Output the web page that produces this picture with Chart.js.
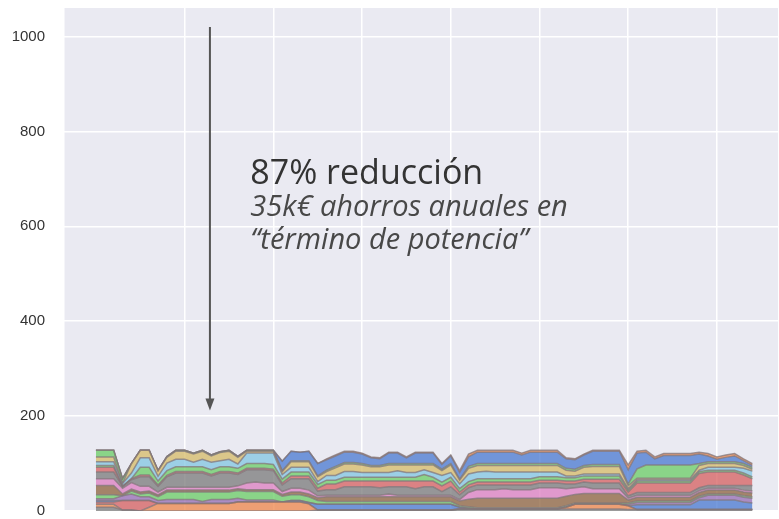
<!DOCTYPE html>
<html>
<head>
<meta charset="utf-8">
<script src="https://cdn.jsdelivr.net/npm/chart.js@4/dist/chart.umd.min.js"></script>
<style>
  html, body { margin: 0; padding: 0; background: #fff; }
  #c { display: block; }
</style>
</head>
<body>
<canvas id="c" width="779" height="519"></canvas>
<script>
// x = sample index (time steps), y = stacked power per point
const steps = Array.from({ length: 75 }, (_, i) => i);
const yTicks = [0, 200, 400, 600, 800, 1000];

const s01 = [8,8,8,2,2, 0,0,0,0,0, 0,0,0,0,0, 0,0,0,0,0, 0,0,0,0,0, 2,2,2,2,2, 2,2,2,2,2, 2,2,2,2,2, 2,4,4,4,4, 4,4,4,4,4, 4,4,4,4,4, 4,4,4,4,4, 3,3,3,3,3, 3,3,3,3,3, 3,3,3,3,3];
const s02 = [6,6,6,0,0, 0,8,16,16,16, 16,16,16,16,16, 16,19,19,19,19, 19,19,19,19,15, 0,0,0,0,0, 0,0,0,0,0, 0,0,0,0,0, 0,0,0,0,0, 0,0,0,0,0, 0,0,0,4,10, 10,10,10,10,10, 8,0,0,0,0, 0,0,0,0,0, 0,0,0,0,0];
const s03 = [5,5,5,20,20, 22,14,0,0,0, 0,0,0,0,0, 0,0,0,0,0, 0,0,0,0,0, 0,0,0,0,0, 0,0,0,0,0, 0,0,0,0,0, 0,0,0,0,0, 0,0,0,0,0, 0,0,0,0,0, 0,0,0,0,0, 0,0,0,0,0, 0,0,0,0,0, 0,0,0,0,0];
const s04 = [3,3,3,0,0, 0,0,0,0,0, 0,0,0,0,0, 0,0,0,0,0, 0,0,3,3,3, 12,12,12,12,12, 12,12,12,12,12, 12,12,12,12,12, 12,4,2,0,0, 0,0,0,0,0, 0,0,0,0,0, 0,0,0,0,0, 0,10,10,10,10, 10,10,10,20,20, 20,20,20,16,14];
const s05 = [4,4,4,10,14, 8,8,6,8,8, 8,8,4,8,8, 8,8,4,4,4, 4,0,0,0,0, 0,0,0,0,0, 0,0,0,0,0, 0,0,0,0,0, 0,0,0,0,0, 0,0,0,0,0, 0,0,0,0,0, 0,0,0,0,0, 3,5,5,5,5, 5,5,5,5,10, 10,10,10,10,10];
const s06 = [8,8,8,0,6, 6,8,8,16,16, 16,16,20,16,16, 16,16,18,18,18, 18,12,12,12,12, 8,6,6,6,6, 6,6,6,6,6, 6,6,6,6,6, 6,3,3,3,3, 3,3,3,3,3, 3,3,3,3,3, 3,3,3,3,3, 3,3,3,3,3, 3,3,3,3,3, 3,3,3,3,3];
const s07 = [20,20,20,4,4, 4,4,4,4,4, 4,4,4,4,4, 4,4,4,4,4, 4,4,6,6,6, 6,10,10,10,10, 10,10,10,10,10, 10,10,10,10,10, 10,10,16,20,20, 20,20,20,20,20, 20,20,20,20,18, 20,20,20,20,20, 6,8,8,8,8, 8,8,8,8,8, 8,8,8,8,8];
const s08 = [14,14,14,12,14, 12,10,6,6,6, 6,6,6,6,6, 6,6,14,16,14, 14,6,8,8,8, 4,3,3,3,3, 3,3,3,6,3, 3,3,3,3,3, 3,3,14,18,18, 18,20,18,18,18, 22,22,22,16,14, 14,10,10,10,10, 4,4,4,4,4, 4,4,4,4,4, 4,4,4,4,4];
const s09 = [14,14,14,4,6, 20,20,12,22,30, 30,30,30,24,30, 30,24,28,26,28, 26,14,20,20,24, 10,12,12,18,18, 18,18,16,15,18, 18,14,18,18,8, 18,10,10,10,10, 10,8,10,10,10, 10,10,10,10,8, 10,12,12,12,12, 5,6,6,6,6, 6,6,6,6,6, 6,6,6,10,12];
const s10 = [10,10,10,0,2, 4,4,3,3,3, 3,3,3,3,3, 3,3,3,3,3, 3,4,6,6,6, 6,12,12,12,12, 12,12,14,12,12, 12,16,12,12,12, 12,6,6,6,6, 6,6,6,6,6, 6,6,6,6,6, 6,8,8,8,8, 8,20,20,20,20, 20,20,20,30,28, 28,28,28,22,14];
const s11 = [4,4,4,0,0, 16,16,8,10,10, 10,10,10,10,10, 10,10,10,10,10, 10,8,8,8,8, 8,8,8,8,8, 8,8,8,8,8, 8,8,14,8,8, 8,7,7,7,7, 7,7,7,7,7, 7,7,7,7,7, 7,7,7,7,7, 4,4,4,4,4, 4,4,4,4,4, 4,4,4,4,4];
const s12 = [8,8,8,6,12, 20,20,10,16,16, 16,10,16,16,13, 16,9,22,22,22, 24,10,10,10,10, 6,10,10,12,12, 10,10,10,10,14, 10,10,10,10,14, 10,10,16,14,16, 14,14,14,14,14, 10,10,10,4,4, 4,4,4,4,4, 3,3,3,3,3, 3,3,3,3,6, 6,6,6,10,12];
const s13 = [10,10,10,0,20, 16,16,12,12,17, 17,17,17,13,17, 17,14,4,4,4, 4,6,12,12,12, 10,8,16,16,16, 16,12,12,16,12, 16,16,10,16,10, 16,8,12,14,12, 14,14,14,14,14, 14,14,14,12,10, 14,16,16,16,16, 6,3,3,3,3, 3,3,3,10,8, 8,8,8,6,4];
const s14 = [14,14,14,10,0, 0,0,0,2,2, 2,2,2,2,2, 2,2,2,2,2, 2,2,2,2,2, 2,3,3,3,3, 3,3,3,3,3, 3,3,3,3,3, 3,2,4,4,4, 4,4,4,4,4, 4,4,4,4,4, 4,4,4,4,4, 4,20,28,28,28, 28,28,28,4,4, 4,4,4,4,4];
const s15 = [0,0,0,0,0, 0,0,0,0,0, 0,0,0,0,0, 0,0,0,0,0, 0,20,20,18,20, 26,22,22,22,22, 20,16,14,22,22, 12,22,22,22,10, 16,14,20,24,24, 24,24,24,18,24, 24,24,24,20,20, 22,28,28,28,28, 30,33,27,13,20, 20,20,20,20,12, 5,9,12,6,4];
const s16 = [0,0,0,0,0, 0,0,0,0,0, 0,0,0,0,0, 0,0,0,0,0, 0,0,0,0,0, 0,2,2,2,2, 2,2,2,2,2, 2,2,2,2,2, 2,4,6,4,4, 4,4,4,4,4, 4,4,4,2,2, 2,2,2,2,2, 10,4,4,4,4, 4,4,4,4,5, 5,5,5,4,4];

const series = [s01, s02, s03, s04, s05, s06, s07, s08, s09, s10, s11, s12, s13, s14, s15, s16];
const colors = [
    "#797979", "#ee854a", "#d65f5f", "#4878d0", "#956cb4", "#6acc64", "#8c613c", "#dc7ec0",
    "#797979", "#d65f5f", "#6acc64", "#82c6e2", "#d5bb67", "#6acc64", "#4878d0", "#ee854a",
];

const hexA = (hex, a) => {
    const n = parseInt(hex.slice(1), 16);
    return `rgba(${(n >> 16) & 255},${(n >> 8) & 255},${n & 255},${a})`;
};

const plotBg = {
    id: "plotBg",
    beforeDraw(chart) {
        const { ctx, chartArea: a } = chart;
        ctx.save();
        ctx.fillStyle = "#eaeaf2";
        ctx.fillRect(a.left, a.top, a.right - a.left, a.bottom - a.top);
        ctx.restore();
    },
};

const note = {
    id: "note",
    afterDatasetsDraw(chart) {
        const { ctx, scales } = chart;
        const x = scales.x.getPixelForValue(12.85);
        const y0 = scales.y.getPixelForValue(1020);
        const y1 = scales.y.getPixelForValue(212);
        ctx.save();
        ctx.strokeStyle = "#555";
        ctx.fillStyle = "#555";
        ctx.lineWidth = 2;
        ctx.beginPath();
        ctx.moveTo(x, y0);
        ctx.lineTo(x, y1 - 11);
        ctx.stroke();
        ctx.beginPath();
        ctx.moveTo(x - 4.5, y1 - 12);
        ctx.lineTo(x + 4.5, y1 - 12);
        ctx.lineTo(x, y1);
        ctx.closePath();
        ctx.fill();

        const tx = scales.x.getPixelForValue(17.4);
        ctx.textAlign = "left";
        ctx.textBaseline = "alphabetic";
        ctx.fillStyle = "#333";
        ctx.font = "34px 'Open Sans', 'Noto Sans', sans-serif";
        ctx.fillText("87% reducción", tx, scales.y.getPixelForValue(690));
        ctx.fillStyle = "#484848";
        ctx.font = "italic 29px 'Open Sans', 'Noto Sans', sans-serif";
        ctx.fillText("35k€ ahorros anuales en", tx, scales.y.getPixelForValue(621));
        ctx.fillText("“término de potencia”", tx, scales.y.getPixelForValue(553));
        ctx.restore();
    },
};

new Chart(document.getElementById("c"), {
    type: "line",
    data: {
        labels: steps,
        datasets: series.map((vals, i) => ({
            label: "Punto " + (i + 1),
            data: vals,
            fill: i === 0 ? "origin" : "-1",
            backgroundColor: hexA(colors[i], 0.75),
            borderColor: "rgba(130,118,122,0.75)",
            borderWidth: 1.5,
            pointRadius: 0,
            tension: 0,
        })),
    },
    options: {
        responsive: false,
        animation: false,
        devicePixelRatio: 1,
        layout: { padding: { top: 8, bottom: 8, left: 0, right: 0 } },
        plugins: {
            legend: { display: false },
            tooltip: { enabled: false },
        },
        scales: {
            x: {
                type: "linear",
                min: -3.6,
                max: 77,
                border: { display: false },
                grid: { color: "#ffffff", lineWidth: 1.5, drawTicks: false },
                ticks: { display: false, stepSize: 10 },
                afterFit: (scale) => {
                    scale.height = 0;
                    scale.paddingLeft = 0;
                    scale.paddingRight = 0;
                },
            },
            y: {
                stacked: true,
                min: 0,
                max: 1060,
                border: { display: false },
                grid: { color: "#ffffff", lineWidth: 1.5, drawTicks: false },
                ticks: {
                    stepSize: 200,
                    includeBounds: false,
                    padding: 19,
                    color: "#333",
                    font: { family: "'Liberation Sans', Arial, sans-serif", size: 15 },
                    callback: (v) => (yTicks.includes(v) ? v : ""),
                },
                afterFit: (scale) => {
                    scale.width = 64;
                    scale.paddingTop = 0;
                    scale.paddingBottom = 0;
                },
            },
        },
    },
    plugins: [plotBg, note],
});
</script>
</body>
</html>
